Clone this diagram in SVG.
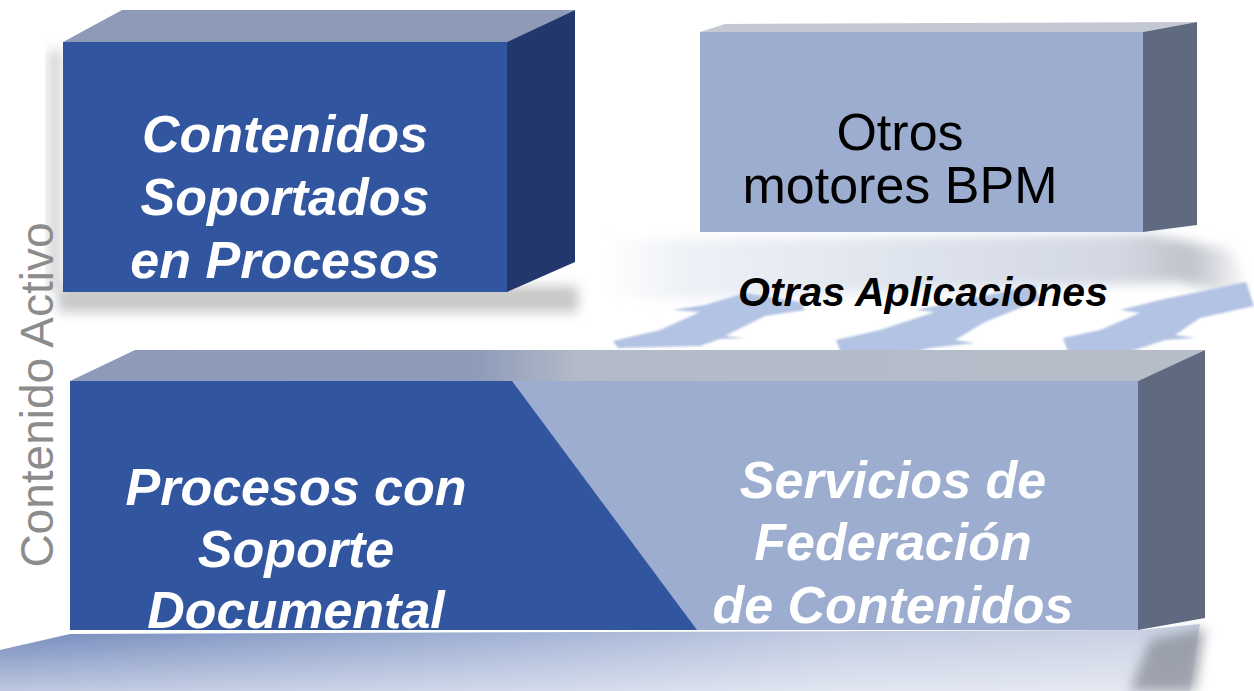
<svg xmlns="http://www.w3.org/2000/svg" width="1254" height="691" viewBox="0 0 1254 691">
<defs>
<style>
.bw{font-family:"Liberation Sans",Arial,sans-serif;font-weight:bold;font-style:italic;fill:#ffffff;text-anchor:middle;font-size:52px}
.rg{font-family:"Liberation Sans",Arial,sans-serif;fill:#000000;text-anchor:middle;font-size:52px}
.bk{font-family:"Liberation Sans",Arial,sans-serif;font-weight:bold;font-style:italic;fill:#000000;text-anchor:middle;font-size:40px}
.vt{font-family:"Liberation Sans",Arial,sans-serif;fill:#8c8c8c;text-anchor:middle;font-size:46px}
.arrow{fill:#b3c3e3}
</style>
<filter id="blur6" x="-20%" y="-50%" width="140%" height="200%"><feGaussianBlur stdDeviation="6"/></filter>
<filter id="blur12" x="-20%" y="-50%" width="140%" height="200%"><feGaussianBlur stdDeviation="12"/></filter>
<filter id="blur1" x="-5%" y="-20%" width="110%" height="140%"><feGaussianBlur stdDeviation="1.2"/></filter>
<linearGradient id="floor" x1="0" y1="0" x2="1" y2="0">
<stop offset="0" stop-color="#6c83b9"/>
<stop offset="0.45" stop-color="#9eaed3"/>
<stop offset="0.7" stop-color="#bcc7df"/>
<stop offset="1" stop-color="#c8d0e2"/>
</linearGradient>
<linearGradient id="floorV" x1="0" y1="0" x2="0" y2="1">
<stop offset="0" stop-color="#ffffff" stop-opacity="0"/>
<stop offset="1" stop-color="#ffffff" stop-opacity="0.55"/>
</linearGradient>
<linearGradient id="swoosh" x1="0" y1="0" x2="1" y2="0">
<stop offset="0" stop-color="#ffffff"/>
<stop offset="0.12" stop-color="#eef1f6"/>
<stop offset="0.5" stop-color="#dde2ec"/>
<stop offset="0.8" stop-color="#d2d7e1"/>
<stop offset="0.9" stop-color="#bfc3cb"/>
<stop offset="1" stop-color="#ffffff"/>
</linearGradient>
<linearGradient id="topface" x1="0" y1="0" x2="1" y2="0">
<stop offset="0" stop-color="#8d9aba"/>
<stop offset="0.36" stop-color="#8f9bb9"/>
<stop offset="0.45" stop-color="#b4bbc8"/>
<stop offset="1" stop-color="#b6bdc9"/>
</linearGradient>
</defs>

<rect width="1254" height="691" fill="#ffffff"/>

<!-- soft shadows -->
<rect x="58" y="286" width="520" height="26" fill="#9a9a9a" opacity="0.55" filter="url(#blur6)"/>
<rect x="48" y="50" width="14" height="240" fill="#b0b0b0" opacity="0.5" filter="url(#blur6)"/>
<path d="M610,240 L1150,234 L1230,250 L1254,300 L1180,282 L650,300 L605,292 Z" fill="url(#swoosh)" filter="url(#blur6)"/>

<!-- lightning arrows -->
<g id="arrows" filter="url(#blur1)">
<path class="arrow" d="M613,341 L618,348 L700,346 L720,339 L745,338 L725,336 L765,316 L805,310 L800,302 L745,293 L705,305 L672,310 L700,312 L660,330 Z"/>
<path class="arrow" d="M836,340 L845,364 L900,356 L930,348 L975,343 L955,340 L985,322 L1040,300 L1035,285 L950,303 L915,310 L935,312 L880,330 Z"/>
<path class="arrow" d="M1063,338 L1072,363 L1135,350 L1165,340 L1195,338 L1175,335 L1200,318 L1254,306 L1246,282 L1160,300 L1120,310 L1140,313 L1100,330 Z"/>
</g>

<!-- top-left box -->
<g id="box-contenidos">
<polygon points="63,42 122,10 575,10 507,42" fill="#8e9bb8"/>
<polygon points="507,42 575,10 575,262 507,292" fill="#22386c"/>
<rect x="63" y="42" width="444" height="250" fill="#3255a0"/>
<text class="bw" x="285" y="152">Contenidos</text>
<text class="bw" x="285" y="215">Soportados</text>
<text class="bw" x="285" y="278">en Procesos</text>
</g>

<!-- top-right box -->
<g id="box-otros">
<polygon points="700,32 725,24 1197,22 1143,32" fill="#c3c8d3"/>
<polygon points="1143,32 1197,22 1197,225 1143,232" fill="#5f6a80"/>
<rect x="700" y="32" width="443" height="200" fill="#9cadcf"/>
<text class="rg" x="900" y="150">Otros</text>
<text class="rg" x="900" y="203">motores BPM</text>
</g>

<!-- otras aplicaciones label -->
<g id="label-otras">
<text class="bk" x="923" y="306" textLength="370" lengthAdjust="spacingAndGlyphs">Otras Aplicaciones</text>
</g>

<!-- bottom box -->
<g id="box-base">
<polygon points="70,381 135,350 1205,350 1138,381" fill="url(#topface)"/>
<polygon points="1138,381 1205,350 1205,618 1138,630" fill="#5f6a80"/>
<rect x="70" y="381" width="1068" height="249" fill="#9cadcf"/>
<polygon points="70,381 512,381 697,630 70,630" fill="#3255a0"/>
<text class="bw" x="296" y="505">Procesos con</text>
<text class="bw" x="296" y="567">Soporte</text>
<text class="bw" x="296" y="628">Documental</text>
<text class="bw" x="893" y="498">Servicios de</text>
<text class="bw" x="893" y="560">Federación</text>
<text class="bw" x="893" y="623">de Contenidos</text>
</g>

<!-- floor -->
<g id="floor-band">
<path d="M0,650 L70,634 L1140,630 L1200,624 L1190,691 L0,691 Z" fill="url(#floor)"/>
<path d="M0,650 L70,634 L1140,630 L1200,624 L1190,691 L0,691 Z" fill="url(#floorV)"/>
<path d="M1150,640 L1205,628 L1195,691 L1130,691 Z" fill="#8d929c" opacity="0.8" filter="url(#blur6)"/>
</g>

<!-- vertical label -->
<g id="label-vertical">
<text class="vt" transform="translate(53,395) rotate(-90)">Contenido Activo</text>
</g>
</svg>
